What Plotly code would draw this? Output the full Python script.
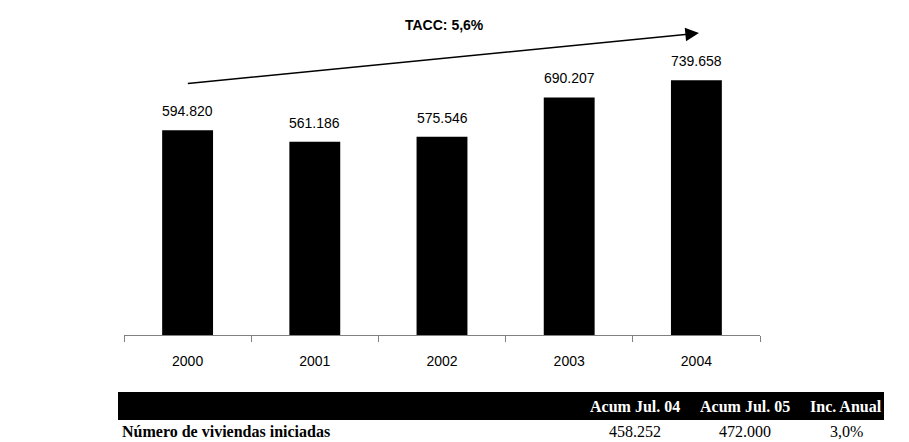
import plotly.graph_objects as go

# Viviendas iniciadas por año
years = ["2000", "2001", "2002", "2003", "2004"]
viviendas = [594820, 561186, 575546, 690207, 739658]

tacc_label = "TACC: 5,6%"

# Resumen acumulado a julio
table_header = ["Acum Jul. 04", "Acum Jul. 05", "Inc. Anual"]
row_label = "Número de viviendas iniciadas"
acum_jul04 = 458252
acum_jul05 = 472000
inc_anual = 3.0


def miles(v):
    return f"{v:,}".replace(",", ".")


W, H = 909, 442
SANS = "Liberation Sans, Arial, sans-serif"
SERIF = "Liberation Serif, Times New Roman, serif"

fig = go.Figure()

fig.add_trace(go.Bar(
    x=years, y=viviendas,
    marker=dict(color="black", line=dict(width=0)),
    width=0.4,
    hoverinfo="skip",
    showlegend=False,
))

# Value labels above each bar (category index as x position)
for i, v in enumerate(viviendas):
    fig.add_annotation(
        x=i, y=v, xref="x", yref="y", text=miles(v), showarrow=False,
        xanchor="center", yanchor="middle",
        yshift=19, font=dict(family=SANS, size=14, color="black"),
    )

# Growth arrow from the first to the last year
fig.add_annotation(
    x=4.02, y=877000, ax=-0.01, ay=730000,
    xref="x", yref="y", axref="x", ayref="y",
    text="", showarrow=True, arrowhead=2, arrowsize=1.7, arrowwidth=1.6,
    arrowcolor="black", standoff=0, startstandoff=0,
)
fig.add_annotation(
    x=2.02, y=900000, xref="x", yref="y", text=f"<b>{tacc_label}</b>",
    xanchor="center", yanchor="middle",
    showarrow=False, font=dict(family=SANS, size=14, color="black"),
)

# Summary table below the chart: black header band plus one data row
band_x0, band_x1 = 118 / W, 884 / W
head_y0, head_y1 = 1 - 420 / H, 1 - 392 / H
row_y = 1 - 431 / H
col_centers = [635 / W, 745 / W, 846 / W]

fig.add_shape(
    type="rect", xref="paper", yref="paper",
    x0=band_x0, x1=band_x1, y0=head_y0, y1=head_y1,
    fillcolor="black", line=dict(width=0), layer="below",
)
for cx, h in zip(col_centers, table_header):
    fig.add_annotation(
        x=cx, y=(head_y0 + head_y1) / 2, xref="paper", yref="paper",
        xanchor="center", yanchor="middle",
        text=f"<b>{h}</b>", showarrow=False,
        font=dict(family=SERIF, size=16, color="white"),
    )

row_values = [miles(acum_jul04), miles(acum_jul05),
              f"{inc_anual:.1f}%".replace(".", ",")]
fig.add_annotation(
    x=120 / W, y=row_y, xref="paper", yref="paper",
    xanchor="left", yanchor="middle",
    text=f"<b>{row_label}</b>", showarrow=False,
    font=dict(family=SERIF, size=16, color="black"),
)
for cx, val in zip(col_centers, row_values):
    fig.add_annotation(
        x=cx, y=row_y, xref="paper", yref="paper",
        xanchor="center", yanchor="middle",
        text=val, showarrow=False,
        font=dict(family=SERIF, size=16, color="black"),
    )

fig.update_layout(
    width=W, height=H,
    margin=dict(l=0, r=0, t=0, b=0),
    paper_bgcolor="white", plot_bgcolor="white",
    bargap=0.6,
    xaxis=dict(
        type="category",
        range=[-0.5, 4.5],
        domain=[124 / W, 760 / W],
        showline=True, linecolor="#808080", linewidth=1,
        ticks="outside", tickson="boundaries", ticklen=6, tickcolor="#808080",
        tickfont=dict(family=SANS, size=14, color="black"),
        ticklabelstandoff=13,
        showgrid=False, zeroline=False, fixedrange=True,
    ),
    yaxis=dict(
        domain=[(H - 335) / H, (H - 20) / H],
        range=[0, 915000],
        visible=False, showgrid=False, zeroline=False, fixedrange=True,
    ),
)

fig.write_html("out.html")
